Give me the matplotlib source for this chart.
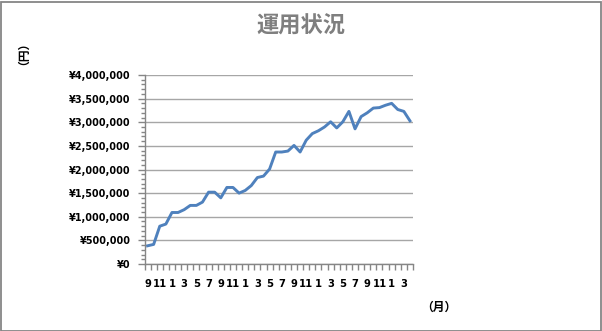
import matplotlib
matplotlib.use("Agg")
import matplotlib.pyplot as plt
from matplotlib.ticker import MultipleLocator, FuncFormatter, FixedLocator
from matplotlib.patches import Rectangle

plt.rcParams['font.family'] = ['DejaVu Sans', 'Noto Sans CJK JP']

# Data: monthly values starting September (44 months)
months = [9, 10, 11, 12, 1, 2, 3, 4, 5, 6, 7, 8, 9, 10, 11, 12,
          1, 2, 3, 4, 5, 6, 7, 8, 9, 10, 11, 12,
          1, 2, 3, 4, 5, 6, 7, 8, 9, 10, 11, 12,
          1, 2, 3, 4]
values = [385000, 415000, 800000, 845000, 1090000, 1090000, 1150000, 1240000,
          1240000, 1310000, 1520000, 1520000, 1400000, 1620000, 1620000, 1500000,
          1556000, 1660000, 1830000, 1860000, 2010000, 2370000, 2370000, 2390000,
          2510000, 2370000, 2620000, 2760000, 2820000, 2900000, 3010000, 2880000,
          3010000, 3230000, 2860000, 3120000, 3200000, 3300000, 3310000, 3360000,
          3400000, 3270000, 3230000, 3030000]

title = "運用状況"
ylabel = "（円）"
xlabel = "（月）"

W, H = 602, 331
fig = plt.figure(figsize=(W / 100, H / 100), dpi=100)
fig.patch.set_facecolor('white')
fig.add_artist(Rectangle((0.5 / W, 0.5 / H), (W - 2) / W, (H - 2) / H,
                         transform=fig.transFigure, fill=False,
                         edgecolor='#868686', linewidth=1.3))

ax = fig.add_axes([144.5 / W, 67 / H, (413 - 144.5) / W, 189 / H])
x = list(range(len(values)))
ax.plot(x, values, color='#4F81BD', linewidth=2.1, solid_joinstyle='round')

ax.set_xlim(-0.5, len(values) - 0.5)
ax.set_ylim(0, 4000000)

# y axis
ax.yaxis.set_major_locator(MultipleLocator(500000))
ax.yaxis.set_minor_locator(MultipleLocator(100000))
ax.yaxis.set_major_formatter(FuncFormatter(lambda v, p: "¥{:,.0f}".format(v)))
ax.grid(axis='y', which='major', color='#A6A6A6', linewidth=1.0)
ax.set_axisbelow(True)
ax.tick_params(axis='y', which='major', length=5, width=1, color='#868686',
               pad=5, labelsize=6.9)
ax.tick_params(axis='y', which='minor', length=3, width=1, color='#868686')
for lab in ax.get_yticklabels():
    lab.set_fontweight('bold')

# x axis: ticks at category boundaries, labels every other month
ax.xaxis.set_major_locator(FixedLocator([i - 0.5 for i in range(len(values) + 1)]))
ax.set_xticklabels([''] * (len(values) + 1))
ax.xaxis.set_minor_locator(FixedLocator(x[::2]))
ax.set_xticklabels([str(m) for m in months[::2]], minor=True)
ax.tick_params(axis='x', which='major', length=4, width=1, color='#868686')
ax.tick_params(axis='x', which='minor', length=0, pad=11, labelsize=7.2)
for lab in ax.get_xticklabels(minor=True):
    lab.set_fontweight('bold')

for s in ['top', 'right']:
    ax.spines[s].set_visible(False)
for s in ['left', 'bottom']:
    ax.spines[s].set_color('#868686')
    ax.spines[s].set_linewidth(1)

fig.text(301 / W, 1 - 26 / H, title, ha='center', va='center', fontsize=16,
         fontweight='bold', color='#7F7F7F', family=['Noto Sans CJK JP'])
fig.text(18 / W, 1 - 47 / H, ylabel, ha='center', va='center', fontsize=8.5,
         fontweight='bold', rotation=90, color='black', family=['Noto Sans CJK JP'])
fig.text(439 / W, 1 - 307 / H, xlabel, ha='center', va='center', fontsize=8.5,
         fontweight='bold', color='black', family=['Noto Sans CJK JP'])

fig.savefig('out.png', dpi=100, facecolor='white')
